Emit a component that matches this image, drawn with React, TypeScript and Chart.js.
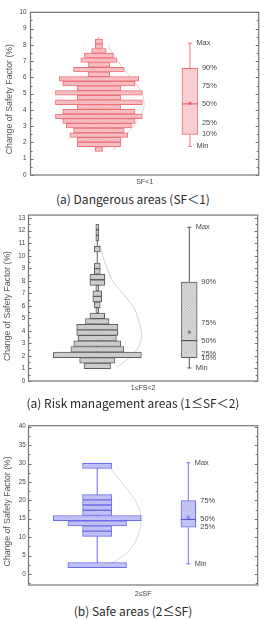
import { useEffect, useRef } from 'react';
import { Chart, registerables } from 'chart.js';

Chart.register(...registerables);

// ---------- Dangerous areas (SF < 1) ----------
const lowBinCenters = [1.594, 1.881, 2.169, 2.456, 2.744, 3.031, 3.319, 3.606, 3.894, 4.181, 4.469, 4.756, 5.044, 5.331, 5.619, 5.906, 6.194, 6.481, 6.769, 7.056, 7.344, 7.631, 7.919, 8.206];
const lowCounts = [1, 6, 6, 8, 7, 9, 10, 12, 10, 6, 12, 6, 12, 6, 10, 11, 3, 7, 3, 5, 4, 2, 1, 1];
const lowStatLabels = ['Max', '90%', '75%', '50%', '25%', '10%', 'Min'];
const lowStatValues = [8.1, 6.55, 5.49, 4.37, 3.18, 2.5, 1.76];
const lowMean = 4.4;
const lowRange = [1.6, 8.45];
const lowCurveY = [1.5, 2.4, 3.3, 4.0, 4.6, 5.3, 6.1, 7.0, 8.0];
const lowCurveX = [1.9, 3.6, 5.3, 6.1, 6.2, 5.6, 4.2, 2.6, 1.2];

// ---------- Risk management areas (1 <= SF < 2) ----------
const midBinCenters = [1.202, 1.646, 2.09, 2.534, 2.978, 3.422, 3.866, 4.31, 4.754, 5.198, 5.642, 6.086, 6.53, 6.974, 7.418, 7.862, 8.306, 8.75, 9.194, 9.638, 10.082, 10.526, 10.97, 11.414, 11.858, 12.302];
const midCounts = [9, 12, 30, 18, 16, 13, 14, 14, 8, 5, 1, 2, 3, 3, 1, 5, 5, 2, 2, 0, 0, 2, 0, 1, 1, 1];
const midStatLabels = ['Max', '90%', '75%', '50%', '25%', '10%', 'Min'];
const midStatValues = [12.28, 7.9, 4.63, 3.22, 2.18, 1.86, 1.04];
const midMean = 3.9;
const midRange = [1.2, 12.4];
const midCurveY = [1.05, 1.28, 1.8, 2.47, 3.2, 3.8, 4.97, 5.93, 7.1, 7.7, 9.0, 10.3, 10.9];
const midCurveX = [6.6, 7.7, 10.6, 13.4, 14.8, 15.1, 13.9, 12.2, 8.3, 6.0, 3.3, 1.5, 0.9];

// ---------- Safe areas (2 <= SF) ----------
const highBinCenters = [2.39, 3.81, 5.23, 6.65, 8.07, 9.49, 10.91, 12.33, 13.75, 15.17, 16.59, 18.01, 19.43, 20.85, 22.27, 23.69, 25.11, 26.53, 27.95, 29.37];
const highCounts = [2, 0, 0, 0, 0, 0, 1, 1, 2, 3, 1, 1, 1, 1, 0, 0, 0, 0, 0, 1];
const highStatLabels = ['Max', '75%', '50%', '25%', 'Min'];
const highStatValues = [30.2, 19.9, 14.8, 12.7, 2.75];
const highMean = 15.4;
const highRange = [2.4, 29.4];
const highCurveY = [2.4, 3.9, 6.6, 10.65, 15.2, 19.2, 23.7, 28.9];
const highCurveX = [0.36, 0.7, 1.12, 1.4, 1.5, 1.35, 0.95, 0.42];

const categories = ['SF<1', '1\u2264FS<2', '2\u2264SF'];
const captions = [
  '(a) Dangerous areas (SF\uFF1C1)',
  '(a) Risk management areas (1\u2264SF\uFF1C2)',
  '(b) Safe areas (2\u2264SF)',
];
const yAxisTitle = 'Change of Safety Factor (%)';

const FONT = '"Liberation Sans", Arial, sans-serif';

type Panel = {
  centers: number[]; counts: number[]; statLabels: string[]; statValues: number[]; mean: number;
  range: number[]; curveY: number[]; curveX: number[]; category: string;
  boxLow: string; boxHigh: string;
  top: number; height: number; padTop: number; padRight: number; axisWidth: number; tickPad: number;
  xTitlePad: number; titleX: number; titleShift: number;
  xMin: number; xMax: number; boxX: number; boxPx: number; boxHalf: number; capHalf: number;
  yMin: number; yMax: number; major: number; minor: number;
  barBase: string; barHatch: string; barEdge: string; boxBase: string; boxHatch: string; boxEdge: string;
  whisker: string; median: string; curve: string; meanFill: string; meanEdge: string;
};

const panels: Panel[] = [
  {
    centers: lowBinCenters, counts: lowCounts, statLabels: lowStatLabels, statValues: lowStatValues, mean: lowMean,
    range: lowRange, curveY: lowCurveY, curveX: lowCurveX, category: categories[0], boxLow: '10%', boxHigh: '90%',
    top: 0, height: 190, padTop: 12.3, padRight: 7.3, axisWidth: 30.5, tickPad: 4, xTitlePad: 3.5, titleX: 10, titleShift: 5.5,
    xMin: -9.45, xMax: 22.08, boxX: 12.58, boxPx: 16, boxHalf: 1.1, capHalf: 0.28,
    yMin: 0, yMax: 10, major: 1, minor: 0.5,
    barBase: '#f9c4c7', barHatch: '#f3a6ab', barEdge: '#ec7178', boxBase: '#fbd6d8', boxHatch: '#f5b4b8', boxEdge: '#ea6f77',
    whisker: '#ee7d84', median: '#e35962', curve: '#f4c4c7', meanFill: '#e86a72', meanEdge: '#e86a72',
  },
  {
    centers: midBinCenters, counts: midCounts, statLabels: midStatLabels, statValues: midStatValues, mean: midMean,
    range: midRange, curveY: midCurveY, curveX: midCurveX, category: categories[1], boxLow: '10%', boxHigh: '90%',
    top: 208, height: 188, padTop: 7, padRight: 8.3, axisWidth: 28.5, tickPad: 3.3, xTitlePad: 3.5, titleX: 8, titleShift: 8,
    xMin: -23.4, xMax: 54.56, boxX: 31.29, boxPx: 15.7, boxHalf: 2.67, capHalf: 0.68,
    yMin: 0, yMax: 13.25, major: 1, minor: 0.5,
    barBase: '#d3d3d3', barHatch: '#b4b4b4', barEdge: '#5e5e5e', boxBase: '#d9d9d9', boxHatch: '#b9b9b9', boxEdge: '#5a5a5a',
    whisker: '#555555', median: '#3a3a3a', curve: '#cdcdcd', meanFill: '#9a9a9a', meanEdge: '#777777',
  },
  {
    centers: highBinCenters, counts: highCounts, statLabels: highStatLabels, statValues: highStatValues, mean: highMean,
    range: highRange, curveY: highCurveY, curveX: highCurveX, category: categories[2], boxLow: '25%', boxHigh: '75%',
    top: 412, height: 188, padTop: 13.7, padRight: 8.3, axisWidth: 28.5, tickPad: 2.8, xTitlePad: 1.5, titleX: 8, titleShift: 6,
    xMin: -2.345, xMax: 5.477, boxX: 3.109, boxPx: 14.7, boxHalf: 0.251, capHalf: 0.068,
    yMin: -3, yMax: 40.27, major: 5, minor: 2.5,
    barBase: '#c6c6f7', barHatch: '#a9a9f1', barEdge: '#6c6ce8', boxBase: '#cacaf7', boxHatch: '#adadf1', boxEdge: '#6a6ae8',
    whisker: '#7474ee', median: '#5151d8', curve: '#cfcff0', meanFill: '#b8b8f4', meanEdge: '#6a6ae0',
  },
];

// fine diagonal hatch used as the fill of bars and boxes
function hatch(ctx: CanvasRenderingContext2D, base: string, line: string): CanvasPattern {
  const s = 3;
  const tile = document.createElement('canvas');
  tile.width = s;
  tile.height = s;
  const g = tile.getContext('2d')!;
  g.fillStyle = base;
  g.fillRect(0, 0, s, s);
  g.strokeStyle = line;
  g.lineWidth = 0.7;
  g.beginPath();
  g.moveTo(-1, s + 1); g.lineTo(s + 1, -1);
  g.moveTo(-1, 1); g.lineTo(1, -1);
  g.moveTo(s - 1, s + 1); g.lineTo(s + 1, s - 1);
  g.stroke();
  return ctx.createPattern(tile, 'repeat')!;
}

// frame, inward ticks, percentile labels and the rotated y title
const decor = {
  id: 'decor',
  afterDatasetsDraw(chart: any, _args: any, o: any) {
    const { ctx, chartArea: a, scales } = chart;
    const y = scales.y;
    const x = scales.x;
    ctx.save();
    ctx.strokeStyle = '#6e6e6e';
    ctx.lineWidth = 1;
    const k0 = Math.ceil(y.min / o.minor - 1e-9);
    for (let k = k0; k * o.minor <= y.max + 1e-9; k++) {
      const v = k * o.minor;
      const r = v / o.major;
      const len = Math.abs(r - Math.round(r)) < 1e-6 ? 3 : 2;
      const py = Math.round(y.getPixelForValue(v)) + 0.5;
      ctx.beginPath();
      ctx.moveTo(a.left, py); ctx.lineTo(a.left + len, py);
      ctx.moveTo(a.right, py); ctx.lineTo(a.right - len, py);
      ctx.stroke();
    }
    ctx.lineWidth = 1.2;
    ctx.strokeStyle = '#757575';
    ctx.strokeRect(a.left, a.top, a.right - a.left, a.bottom - a.top);

    ctx.fillStyle = '#444';
    ctx.font = `7.4px ${FONT}`;
    ctx.textBaseline = 'middle';
    ctx.textAlign = 'left';
    const bx = x.getPixelForValue(o.boxX);
    o.labels.forEach((t: string, i: number) => {
      const off = t === 'Max' || t === 'Min' ? 6.5 : 12;
      ctx.fillText(t, bx + off, y.getPixelForValue(o.values[i]));
    });

    ctx.fillStyle = '#555';
    ctx.font = `8.7px ${FONT}`;
    ctx.textAlign = 'center';
    ctx.translate(o.titleX, (a.top + a.bottom) / 2 + o.titleShift);
    ctx.rotate(-Math.PI / 2);
    ctx.fillText(o.title, 0, 0);
    ctx.restore();
  },
};

function buildChart(canvas: HTMLCanvasElement, p: Panel): Chart {
  const ctx = canvas.getContext('2d')!;
  const barFill = hatch(ctx, p.barBase, p.barHatch);
  const boxFill = hatch(ctx, p.boxBase, p.boxHatch);
  const stat = (name: string) => p.statValues[p.statLabels.indexOf(name)];
  const lo = stat(p.boxLow);
  const hi = stat(p.boxHigh);
  const mx = stat('Max');
  const mn = stat('Min');
  const md = stat('50%');
  const seg = (pts: { x: number; y: number }[], color: string, order: number, extra: any = {}) => ({
    type: 'line', data: pts, borderColor: color, borderWidth: 1, pointRadius: 0, fill: false,
    order, xAxisID: 'x', yAxisID: 'y', ...extra,
  });
  const datasets: any[] = [
    {
      type: 'bar', indexAxis: 'y',
      data: p.centers.map((c, i) => ({ y: c, x: [-p.counts[i] / 2, p.counts[i] / 2] })),
      backgroundColor: barFill, borderColor: p.barEdge, borderWidth: 1, borderSkipped: false,
      barPercentage: 1, categoryPercentage: 1, grouped: false, xAxisID: 'x', yAxisID: 'y', order: 3,
    },
    {
      type: 'bar', indexAxis: 'x',
      data: [{ x: p.boxX, y: [lo, hi] }],
      barThickness: p.boxPx, backgroundColor: boxFill, borderColor: p.boxEdge, borderWidth: 1,
      borderSkipped: false, grouped: false, xAxisID: 'xb', yAxisID: 'yb', order: 2,
    },
    seg(p.range.map((v) => ({ x: 0, y: v })), p.barEdge, 4),
    seg(p.curveY.map((v, i) => ({ x: p.curveX[i], y: v })), p.curve, 5, { tension: 0.4, borderWidth: 0.9 }),
    seg([{ x: p.boxX, y: hi }, { x: p.boxX, y: mx }], p.whisker, 1),
    seg([{ x: p.boxX, y: mn }, { x: p.boxX, y: lo }], p.whisker, 1),
    seg([{ x: p.boxX - p.capHalf, y: mx }, { x: p.boxX + p.capHalf, y: mx }], p.whisker, 1),
    seg([{ x: p.boxX - p.capHalf, y: mn }, { x: p.boxX + p.capHalf, y: mn }], p.whisker, 1),
    seg([{ x: p.boxX - p.boxHalf, y: md }, { x: p.boxX + p.boxHalf, y: md }], p.median, 0),
    {
      type: 'line', data: [{ x: p.boxX, y: p.mean }], showLine: false, pointRadius: 1.6, pointStyle: 'rect',
      pointBackgroundColor: p.meanFill, pointBorderColor: p.meanEdge, pointBorderWidth: 0.8,
      order: 0, xAxisID: 'x', yAxisID: 'y',
    },
  ];
  const isMajor = (v: number) => Math.abs(v / p.major - Math.round(v / p.major)) < 1e-6;
  return new Chart(canvas, {
    type: 'bar',
    data: { datasets },
    plugins: [decor],
    options: {
      animation: false,
      responsive: false,
      devicePixelRatio: 1,
      events: [],
      layout: { padding: { top: p.padTop, right: p.padRight, left: 0, bottom: 0 } },
      plugins: {
        legend: { display: false },
        tooltip: { enabled: false },
        decor: {
          minor: p.minor, major: p.major, labels: p.statLabels, values: p.statValues, boxX: p.boxX,
          title: yAxisTitle, titleX: p.titleX, titleShift: p.titleShift,
        },
      } as any,
      scales: {
        x: {
          type: 'linear', min: p.xMin, max: p.xMax, offset: false,
          grid: { display: false, drawTicks: false, offset: false }, border: { display: false },
          ticks: { display: false },
          title: {
            display: true, text: p.category, color: '#444',
            font: { family: FONT, size: 7 }, padding: { top: 0, bottom: p.xTitlePad },
          },
          afterFit: (s: any) => { s.height = 15; },
        },
        y: {
          type: 'linear', min: p.yMin, max: p.yMax, offset: false,
          grid: { display: false, drawTicks: false, offset: false }, border: { display: false },
          ticks: {
            stepSize: p.minor, includeBounds: false, autoSkip: false, padding: p.tickPad,
            color: '#444', font: { family: FONT, size: 6.3 },
            callback: (v: any) => (isMajor(Number(v)) ? String(Math.round(Number(v))) : ''),
          },
          afterFit: (s: any) => { s.width = p.axisWidth; },
        },
        xb: { type: 'linear', display: false, min: p.xMin, max: p.xMax, offset: false },
        yb: { type: 'linear', display: false, min: p.yMin, max: p.yMax, offset: false },
      } as any,
    },
  } as any);
}

const captionTops = [190.5, 394.5, 602.5];

export default function App() {
  const r0 = useRef<HTMLCanvasElement>(null);
  const r1 = useRef<HTMLCanvasElement>(null);
  const r2 = useRef<HTMLCanvasElement>(null);

  useEffect(() => {
    const refs = [r0, r1, r2];
    const charts = panels.map((p, i) => buildChart(refs[i].current!, p));
    return () => charts.forEach((c) => c.destroy());
  }, []);

  const refs = [r0, r1, r2];
  return (
    <div style={{ position: 'absolute', left: 0, top: 0, width: 266, height: 619, background: '#fff', overflow: 'hidden' }}>
      {panels.map((p, i) => (
        <canvas
          key={`c${i}`}
          ref={refs[i]}
          width={266}
          height={p.height}
          style={{ position: 'absolute', left: 0, top: p.top, width: 266, height: p.height }}
        />
      ))}
      {captions.map((t, i) => (
        <div
          key={`t${i}`}
          style={{
            position: 'absolute', left: 0, top: captionTops[i], width: 266, textAlign: 'center',
            fontFamily: '"Noto Sans CJK KR", "Noto Sans", sans-serif', fontSize: 12, lineHeight: '16px',
            color: '#2a2a2a', whiteSpace: 'nowrap',
          }}
        >
          {t}
        </div>
      ))}
    </div>
  );
}
